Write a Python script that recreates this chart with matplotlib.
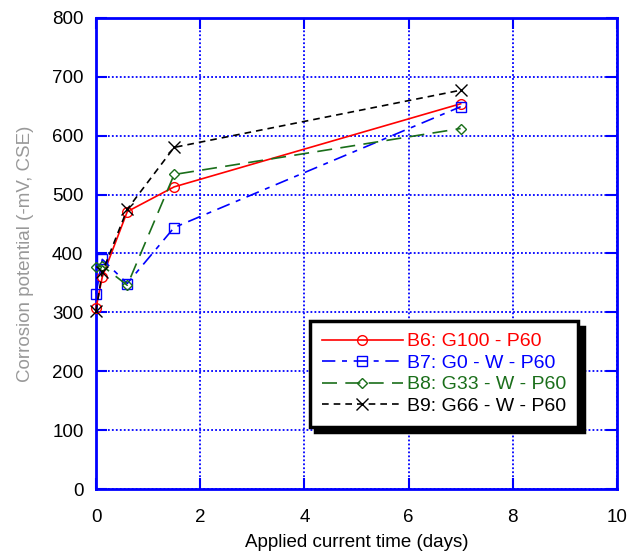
import matplotlib.pyplot as plt

plt.rcParams["font.family"] = ["Liberation Sans", "DejaVu Sans"]

# applied current time (days) and corrosion potential (-mV, CSE)
days = [0, 0.12, 0.6, 1.5, 7]
b6 = [307, 360, 471, 513, 654]
b7 = [331, 390, 349, 444, 649]
b8 = [377, 379, 346, 534, 612]
b9 = [302, 368, 475, 580, 677]

labels = ["B6: G100 - P60", "B7: G0 - W - P60", "B8: G33 - W - P60", "B9: G66 - W - P60"]
colors = ["red", "blue", "#1a6e1a", "black"]
markers = ["o", "s", "D", "x"]
styles = ["-", (0, (8, 4, 3, 4)), (0, (9, 5)), (0, (4, 3))]
sizes = [7, 7, 5, 8]

fig = plt.figure(figsize=(6.4, 5.54), dpi=100)
ax = fig.add_axes([0.15, 0.117, 0.814, 0.851])

for y, lab, c, m, ls, ms in zip([b6, b7, b8, b9], labels, colors, markers, styles, sizes):
    ax.plot(days, y, color=c, marker=m, markersize=ms, markerfacecolor="none",
            markeredgecolor=c, linestyle=ls, linewidth=1.2, label=lab,
            clip_on=False, zorder=3)

ax.set_xlim(0, 10)
ax.set_ylim(0, 800)
ax.set_xticks(range(0, 11, 2))
ax.set_yticks(range(0, 801, 100))
ax.grid(True, color="blue", linestyle=(0, (1, 1.2)), linewidth=1.3)
for s in ax.spines.values():
    s.set_color("blue")
    s.set_linewidth(2)
ax.tick_params(direction="in", length=8, width=1.5, color="blue",
               top=True, right=True, labelsize=13.5, pad=9)
ax.tick_params(axis="x", pad=14)

ax.set_xlabel("Applied current time (days)", fontsize=13.5, color="black", labelpad=6)
ax.set_ylabel("Corrosion potential (-mV, CSE)", fontsize=13.5, color="#999999", labelpad=13)

try:
    shadow = {"color": "black", "alpha": 1, "ox": 4, "oy": -4}
    leg = ax.legend(loc="lower left", bbox_to_anchor=(0.392, 0.112), fontsize=14,
                    numpoints=1, handlelength=4.2, handletextpad=0.2, borderpad=0.6,
                    labelspacing=0.2, fancybox=False, framealpha=1, shadow=shadow)
    fig.canvas.draw()
except Exception:
    leg = ax.legend(loc="lower left", bbox_to_anchor=(0.392, 0.112), fontsize=14,
                    numpoints=1, handlelength=4.2, handletextpad=0.2, borderpad=0.6,
                    labelspacing=0.2, fancybox=False, framealpha=1,
                    shadow={"color": "black", "alpha": 1})
leg.get_frame().set_edgecolor("black")
leg.get_frame().set_linewidth(2.5)
for t, c in zip(leg.get_texts(), colors):
    t.set_color(c)

fig.savefig("out.png", dpi=100)
